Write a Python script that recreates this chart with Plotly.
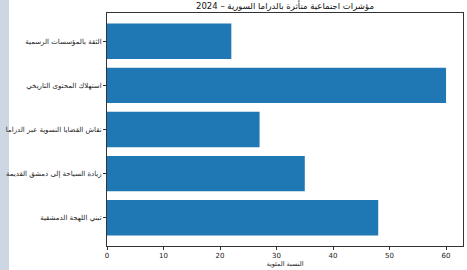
import plotly.graph_objects as go

categories = [
    "تبني اللهجة الدمشقية",
    "زيادة السياحة إلى دمشق القديمة",
    "نقاش القضايا النسوية عبر الدراما",
    "استهلاك المحتوى التاريخي",
    "الثقة بالمؤسسات الرسمية",
]
values = [48, 35, 27, 60, 22]
x_ticks = [0, 10, 20, 30, 40, 50, 60]
title_text = "مؤشرات اجتماعية متأثرة بالدراما السورية – 2024"
x_title = "النسبة المئوية"

W, H = 467, 270
L, R, T, B = 107, 4, 13, 24
pw, ph = W - L - R, H - T - B

fig = go.Figure(go.Bar(
    y=list(range(len(categories))),
    x=values,
    orientation="h",
    width=0.8,
    marker=dict(color="#1f77b4", line=dict(width=0)),
))

fig.update_layout(
    width=W, height=H,
    margin=dict(l=L, r=R, t=T, b=B, pad=0),
    paper_bgcolor="white",
    plot_bgcolor="white",
    font=dict(family="DejaVu Sans", size=7, color="#222"),
    showlegend=False,
    title=dict(text=title_text, x=(L + pw / 2) / W, xanchor="center",
               y=1 - 6 / H, yanchor="middle", font=dict(size=8.5, color="#111")),
    xaxis=dict(
        range=[0, 63], tickvals=x_ticks, ticktext=[str(v) for v in x_ticks],
        ticks="outside", ticklen=3, tickwidth=0.8, tickcolor="#333",
        showgrid=False, zeroline=False, showline=True, linecolor="#333",
        linewidth=0.8, mirror=True,
        title=dict(text=x_title, standoff=2, font=dict(size=6.5)),
        tickfont=dict(size=7),
    ),
    yaxis=dict(
        range=[-0.64, 4.64], tickvals=list(range(len(categories))), ticktext=categories,
        ticks="outside", ticklen=3, tickwidth=0.8, tickcolor="#333",
        showgrid=False, zeroline=False, showline=True, linecolor="#333",
        linewidth=0.8, mirror=True, tickfont=dict(size=7),
    ),
    shapes=[dict(
        type="rect", xref="paper", yref="paper",
        x0=-L / pw, x1=(9 - L) / pw, y0=-B / ph, y1=1 + T / ph,
        fillcolor="#cdd7e4", line=dict(width=0), layer="below",
    )],
)

fig.write_html("out.html")
